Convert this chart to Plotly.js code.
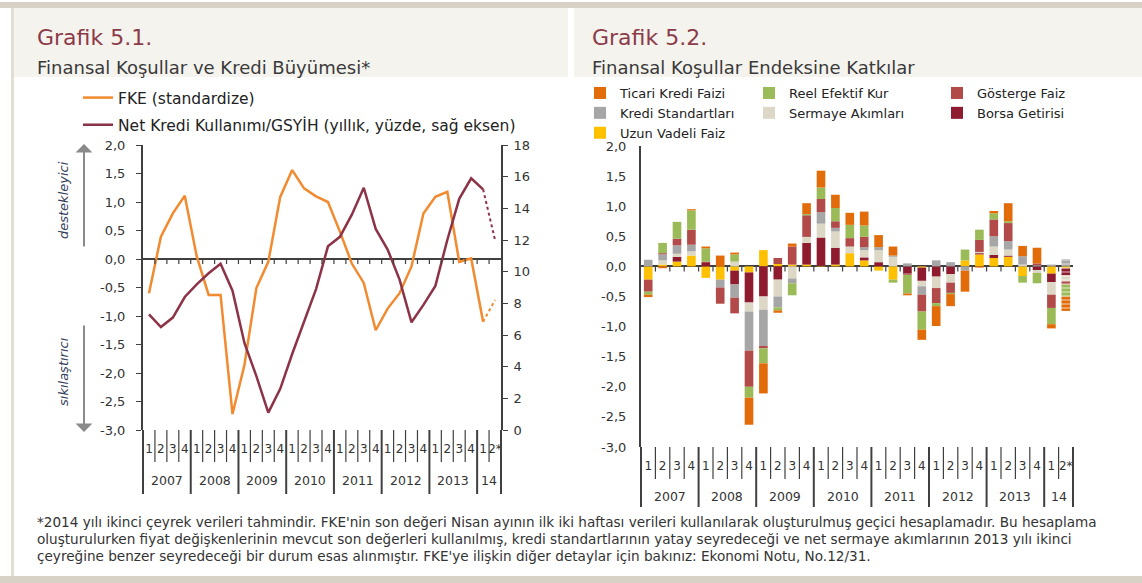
<!DOCTYPE html>
<html>
<head>
<meta charset="utf-8">
<script src="https://cdn.plot.ly/plotly-3.0.1.min.js"></script>
<style>
  html, body { margin: 0; padding: 0; background: #fff; }
  #chart { width: 1142px; height: 583px; }
</style>
</head>
<body>
<div id="chart"></div>
<script>
const W = 1142, H = 583;

// eksen kategorileri
const yearGroups = ['2007', '2008', '2009', '2010', '2011', '2012', '2013', '14'];
const quarterLabels = ['1', '2', '3', '4'];
const lastQuarterLabels = ['1', '2*'];

// Grafik 5.1 - son değer tahmin (noktalı)
const fke = [-0.60, 0.39, 0.80, 1.11, 0.05, -0.63, -0.63, -2.72, -1.86, -0.51, -0.05, 1.09, 1.56, 1.24, 1.10, 1.00,
             0.48, -0.08, -0.42, -1.25, -0.87, -0.60, -0.13, 0.80, 1.09, 1.18, -0.05, 0.01, -1.10, -0.72];
const netKredi = [7.3, 6.5, 7.1, 8.4, 9.2, 9.9, 10.5, 8.8, 5.5, 3.4, 1.1, 2.6, 4.8, 6.8, 8.9, 11.6,
                  12.2, 13.6, 15.3, 12.7, 11.4, 9.5, 6.8, 7.9, 9.1, 12.0, 14.6, 15.9, 15.2, 12.0];

// Grafik 5.2 - bileşenler (yığılma sırasıyla)
const uzunVadeliFaiz = [-0.22, 0.03, 0.08, 0.18, -0.19, -0.22, -0.07, -0.10, 0.27, 0.04, 0.03, 0.03, 0.01, 0.03, 0.22,
                        0.10, -0.07, -0.22, 0.00, -0.02, 0.00, 0.00, 0.10, 0.20, 0.14, 0.16, -0.16, 0.00, -0.12, -0.03];
const borsaGetirisi = [0, 0, 0.08, 0, 0.07, 0, -0.23, -0.50, -0.50, -0.22, 0, 0.36, 0.47, 0.28, 0,
                       0.05, 0.07, 0, -0.12, -0.22, -0.17, -0.13, 0, 0.02, 0.05, 0.02, 0, -0.06, -0.14, -0.12];
const sermayeAkimlari = [0, 0.07, 0.05, 0.07, 0, 0, 0.08, -0.15, -0.22, -0.28, -0.20, 0.10, 0.23, 0.27, 0.11,
                         0.12, 0.20, 0.16, 0, -0.09, -0.19, -0.14, 0, 0.02, 0.14, 0.10, 0.03, -0.05, -0.21, -0.10];
const krediStandartlari = [0.11, 0.10, 0.14, 0.11, 0, -0.13, -0.22, -0.65, -0.60, -0.18, -0.08, 0, 0.19, 0.06, 0,
                           0.05, 0.05, 0.02, 0.05, -0.14, 0.10, 0.07, -0.07, 0, 0.17, 0.14, 0.14, 0.02, 0.03, 0.12];
const gostergeFaiz = [-0.20, 0.02, 0.11, 0.25, 0.01, -0.27, -0.26, -0.60, -0.04, 0.10, 0.30, 0.36, 0.22, 0.11, 0.14,
                      0.17, 0, 0, -0.02, -0.28, -0.25, -0.17, 0, 0.20, 0.28, 0.30, 0, 0.03, -0.22, -0.05];
const reelEfektifKur = [-0.05, 0.17, 0.28, 0.32, 0.22, 0, 0.12, -0.18, -0.25, -0.05, -0.20, 0.02, 0.19, 0.22, 0.22,
                        0.19, 0, -0.05, -0.31, -0.30, -0.05, -0.02, 0.18, 0.17, 0.10, 0.03, -0.11, -0.17, -0.27, -0.20];
const ticariKrediFaizi = [-0.04, -0.03, 0, 0.02, 0.03, 0.18, 0.03, -0.45, -0.50, -0.04, 0.05, 0.18, 0.28, 0.22, 0.20,
                          0.23, 0.20, 0.15, -0.03, -0.17, -0.33, -0.20, -0.35, -0.02, 0.04, 0.30, 0.17, 0.26, -0.07, -0.24];

// eksen etiketleri
const leftTicks = [2, 1.5, 1, 0.5, 0, -0.5, -1, -1.5, -2, -2.5, -3];
const creditTicks = [0, 2, 4, 6, 8, 10, 12, 14, 16, 18];

const footnoteLines = [
  '*2014 yılı ikinci çeyrek verileri tahmindir. FKE\'nin son değeri Nisan ayının ilk iki haftası verileri kullanılarak oluşturulmuş geçici hesaplamadır. Bu hesaplama',
  'oluşturulurken fiyat değişkenlerinin mevcut son değerleri kullanılmış, kredi standartlarının yatay seyredeceği ve net sermaye akımlarının 2013 yılı ikinci',
  'çeyreğine benzer seyredeceği bir durum esas alınmıştır. FKE\'ye ilişkin diğer detaylar için bakınız: Ekonomi Notu, No.12/31.'
];

// çeyrek anahtarları (ör. 2007-1) ve yıl sınırları
const xKeys = [], xQuarters = [], yearBounds = [0];
yearGroups.forEach((y, k) => {
  const qs = k === yearGroups.length - 1 ? lastQuarterLabels : quarterLabels;
  qs.forEach(q => { xKeys.push(y + '-' + q); xQuarters.push(q); });
  yearBounds.push(xKeys.length);
});
const nCat = xKeys.length;
const nSolid = fke.length - 1;
const comma = (v, d) => v.toFixed(d).replace('.', ',');

// piksel -> paper
const px = x => x / W;
const py = y => 1 - y / H;

const leftDom = { x: [px(143), px(501)], y: [py(430), py(145)] };
const rightDom = { x: [px(641), px(1073)], y: [py(447), py(146)] };

const ORANGE = '#f28a30', MAROON = '#8c3347';
const axisCol = '#404040';
const tickFont = { family: 'DejaVu Sans', size: 13, color: '#333' };

const traces = [
  { x: xKeys.slice(0, nSolid), y: fke.slice(0, nSolid), type: 'scatter', mode: 'lines', name: 'FKE (standardize)',
    line: { color: ORANGE, width: 2.5 }, xaxis: 'x', yaxis: 'y', legend: 'legend', legendgroup: 'a' },
  { x: xKeys.slice(nSolid - 1), y: fke.slice(nSolid - 1), type: 'scatter', mode: 'lines', showlegend: false,
    line: { color: ORANGE, width: 2, dash: 'dot' }, xaxis: 'x', yaxis: 'y', legendgroup: 'a' },
  { x: xKeys.slice(0, nSolid), y: netKredi.slice(0, nSolid), type: 'scatter', mode: 'lines',
    name: 'Net Kredi Kullanımı/GSYİH (yıllık, yüzde, sağ eksen)',
    line: { color: MAROON, width: 2.5 }, xaxis: 'x', yaxis: 'y2', legend: 'legend', legendgroup: 'b' },
  { x: xKeys.slice(nSolid - 1), y: netKredi.slice(nSolid - 1), type: 'scatter', mode: 'lines', showlegend: false,
    line: { color: MAROON, width: 2, dash: 'dot' }, xaxis: 'x', yaxis: 'y2', legendgroup: 'b' }
];

// yığılma sırası: sıfırdan dışarı doğru
const components = [
  { name: 'Uzun Vadeli Faiz', y: uzunVadeliFaiz, color: '#ffc000', legend: 'legend2', rank: 3 },
  { name: 'Borsa Getirisi', y: borsaGetirisi, color: '#8e1b2e', legend: 'legend4', rank: 2 },
  { name: 'Sermaye Akımları', y: sermayeAkimlari, color: '#ddd8c6', legend: 'legend3', rank: 2 },
  { name: 'Kredi Standartları', y: krediStandartlari, color: '#a6a6a6', legend: 'legend2', rank: 2 },
  { name: 'Gösterge Faiz', y: gostergeFaiz, color: '#b34a4a', legend: 'legend4', rank: 1 },
  { name: 'Reel Efektif Kur', y: reelEfektifKur, color: '#9bbb59', legend: 'legend3', rank: 1 },
  { name: 'Ticari Kredi Faizi', y: ticariKrediFaizi, color: '#e36c0a', legend: 'legend2', rank: 1 }
];
components.forEach(c => {
  traces.push({
    x: xKeys, y: c.y, type: 'bar', name: c.name, xaxis: 'x2', yaxis: 'y3',
    legend: c.legend, legendrank: c.rank,
    marker: { color: c.color, line: { width: 0 },
      pattern: { shape: c.y.map((v, i) => i === nCat - 1 ? '-' : ''), fgcolor: '#fff', fillmode: 'overlay', size: 4, solidity: 0.35 } }
  });
});

const catAxis = (domain, anchor) => ({
  type: 'category', domain, anchor, range: [-0.5, nCat - 0.5],
  tickmode: 'array', tickvals: xKeys, ticktext: xQuarters, tickangle: 0,
  showline: false, showgrid: false, zeroline: false, ticks: '',
  tickfont: { family: 'DejaVu Sans', size: 12, color: '#333' }, ticklabelstandoff: 10
});

// çeyrek ve yıl ayraçları (kategori sınırlarında) ve sıfır çizgisi üzerindeki küçük işaretler
const separators = (xref, top, qLen, yLen) => {
  const out = [];
  for (let k = 0; k <= nCat; k++) {
    const isYear = yearBounds.includes(k);
    out.push({ type: 'line', xref, yref: 'paper', x0: k / nCat, x1: k / nCat,
      y0: py(top), y1: py(top + (isYear ? yLen : qLen)),
      line: { color: axisCol, width: isYear ? 2 : 1.2 } });
  }
  return out;
};
const zeroTicks = (xref, yref) => {
  const out = [];
  for (let k = 1; k < nCat; k++) {
    out.push({ type: 'line', xref, yref, ysizemode: 'pixel', yanchor: 0, x0: k / nCat, x1: k / nCat,
      y0: 0, y1: -5, line: { color: axisCol, width: 1.2 } });
  }
  return out;
};
// yıl etiketleri: her yıl grubunun ortasında
const yearNotes = (xref, y) => yearGroups.map((yr, k) => ({
  text: yr, xref, yref: 'paper', x: (yearBounds[k] + yearBounds[k + 1]) / 2 / nCat, y: py(y),
  xanchor: 'center', yanchor: 'middle', showarrow: false,
  font: { family: 'DejaVu Sans', size: 12.5, color: '#333' }
}));

const box = (x0, y0, x1, y1, color) => ({
  type: 'rect', xref: 'paper', yref: 'paper', x0: px(x0), x1: px(x1), y0: py(y1), y1: py(y0),
  fillcolor: color, line: { width: 0 }, layer: 'below'
});

const note = (text, x, y, size, color, extra) => Object.assign({
  text, xref: 'paper', yref: 'paper', x: px(x), y: py(y), xanchor: 'left', yanchor: 'middle',
  showarrow: false, font: { family: 'DejaVu Sans', size, color }
}, extra || {});

const annotations = [
  note('Grafik 5.1.', 35, 37, 22, '#8c3b48'),
  note('Finansal Koşullar ve Kredi Büyümesi*', 35, 67, 18, '#3a3a3a'),
  note('Grafik 5.2.', 590, 37, 22, '#8c3b48'),
  note('Finansal Koşullar Endeksine Katkılar', 590, 67, 18, '#3a3a3a'),
  note('<i>destekleyici</i>', 63, 200, 13, '#34405a', { textangle: -90, xanchor: 'center' }),
  note('<i>sıkılaştırıcı</i>', 63, 372, 13, '#34405a', { textangle: -90, xanchor: 'center' }),
  { text: '', xref: 'paper', yref: 'paper', x: px(84), y: py(144), ax: 0, ay: 104, showarrow: true,
    arrowhead: 1, arrowsize: 1.4, arrowwidth: 2, arrowcolor: '#8a8a8a' },
  { text: '', xref: 'paper', yref: 'paper', x: px(84), y: py(432), ax: 0, ay: -108, showarrow: true,
    arrowhead: 1, arrowsize: 1.4, arrowwidth: 2, arrowcolor: '#8a8a8a' }
].concat(yearNotes('x domain', 480), yearNotes('x2 domain', 496));
footnoteLines.forEach((t, k) => annotations.push(note(t, 35, 522 + 17 * k, 13.6, '#333')));

const legendBase = { xref: 'paper', yref: 'paper', xanchor: 'left', yanchor: 'top', bgcolor: 'rgba(0,0,0,0)',
  font: { family: 'DejaVu Sans', size: 13, color: '#222' }, traceorder: 'normal' };

const layout = {
  width: W, height: H,
  margin: { l: 0, r: 0, t: 0, b: 0 },
  paper_bgcolor: '#fff', plot_bgcolor: 'rgba(0,0,0,0)',
  separators: ',.',
  font: { family: 'DejaVu Sans', color: '#333' },
  barmode: 'relative', bargap: 0.4,
  xaxis: catAxis(leftDom.x, 'y'),
  xaxis2: catAxis(rightDom.x, 'y3'),
  yaxis: {
    domain: leftDom.y, anchor: 'x', range: [-3, 2], tickvals: leftTicks, ticktext: leftTicks.map(v => comma(v, 1)),
    showline: true, linecolor: axisCol, linewidth: 2, ticks: 'outside', ticklen: 5, tickcolor: axisCol,
    showgrid: false, zeroline: true, zerolinecolor: axisCol, zerolinewidth: 2, tickfont: tickFont, ticklabelstandoff: 8
  },
  yaxis2: {
    overlaying: 'y', side: 'right', anchor: 'x', range: [0, 18], tickvals: creditTicks, ticktext: creditTicks.map(String),
    showline: true, linecolor: axisCol, linewidth: 2, ticks: 'outside', ticklen: 5, tickcolor: axisCol,
    showgrid: false, zeroline: false, tickfont: tickFont, ticklabelstandoff: 3
  },
  yaxis3: {
    domain: rightDom.y, anchor: 'x2', range: [-3, 2], tickvals: leftTicks, ticktext: leftTicks.map(v => comma(v, 1)),
    showline: true, linecolor: axisCol, linewidth: 2, ticks: '',
    showgrid: false, zeroline: true, zerolinecolor: axisCol, zerolinewidth: 2, tickfont: tickFont, ticklabelstandoff: 10
  },
  yaxis4: {
    overlaying: 'y3', side: 'right', anchor: 'x2', range: [-3, 2], tickvals: leftTicks, ticktext: leftTicks.map(v => comma(v, 2)),
    showline: true, linecolor: axisCol, linewidth: 2, ticks: 'outside', ticklen: 5, tickcolor: axisCol,
    showgrid: false, zeroline: false, tickfont: tickFont, ticklabelstandoff: 5
  },
  legend: Object.assign({}, legendBase, { x: px(78), y: py(81), traceorder: 'grouped', tracegroupgap: 4,
    font: { family: 'DejaVu Sans', size: 15.5, color: '#222' } }),
  legend2: Object.assign({}, legendBase, { x: px(580), y: py(78) }),
  legend3: Object.assign({}, legendBase, { x: px(749), y: py(78) }),
  legend4: Object.assign({}, legendBase, { x: px(937), y: py(78) }),
  shapes: [
    box(0, 2, W, 8, '#d8d2c6'),
    box(11, 8, 14, H, '#e3ded3'),
    box(14, 8, 568, 77, '#f4f3ee'),
    box(574, 8, W, 77, '#f4f3ee'),
    box(0, 576, W, H, '#d8d2c6')
  ].concat(
    separators('x domain', 430, 32, 64), separators('x2 domain', 447, 32, 60),
    zeroTicks('x domain', 'y'), zeroTicks('x2 domain', 'y3')
  ),
  annotations
};

Plotly.newPlot('chart', traces, layout, { displayModeBar: false, staticPlot: true });
</script>
</body>
</html>
